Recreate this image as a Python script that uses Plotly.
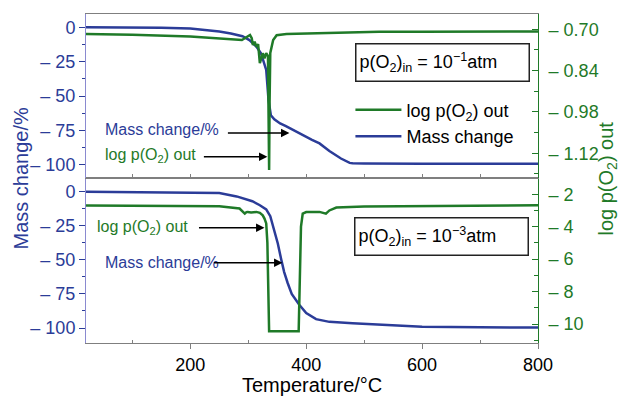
import plotly.graph_objects as go

BLUE = "#2B3C98"
GREEN = "#1F7A28"
GRAY = "#7f7f7f"
FONT = "Liberation Sans, Arial, sans-serif"

# ---- top panel: p(O2)_in = 1e-1 atm ----
t_mass_top = [20, 100, 150, 200, 230, 250, 270, 290, 302, 314, 322, 331, 335, 339, 345, 355,
              365, 380, 400, 410, 423, 440, 460, 475, 480, 500, 600, 700, 800]
mass_top = [0, 0, -0.3, -0.8, -1.8, -3, -4.5, -6.5, -9.3, -14, -19, -31, -53, -64, -67, -70,
            -72, -75.5, -80, -82, -84.5, -90, -95.5, -98.7, -99, -99.2, -99.3, -99.3, -99.3]

t_po2_top = [20, 100, 200, 250, 289, 303, 306, 308, 311, 314, 317, 320, 322, 325, 328, 331, 334,
             335.3, 336, 336.8, 338, 343, 349, 366, 400, 526, 600, 700, 800]
po2_top = [-0.716, -0.718, -0.724, -0.73, -0.736, -0.719, -0.73, -0.753, -0.742, -0.759, -0.75,
           -0.815, -0.798, -0.781, -0.798, -0.781, -0.79, -0.95, -1.177, -0.95, -0.78, -0.736,
           -0.72, -0.716, -0.714, -0.708, -0.708, -0.707, -0.707]

# ---- bottom panel: p(O2)_in = 1e-3 atm ----
t_mass_bot = [20, 150, 200, 250, 280, 307, 320, 331, 338, 345, 351, 357, 362, 368, 375, 388,
              400, 417, 440, 480, 550, 600, 700, 800]
mass_bot = [0, -0.3, -0.6, -1, -3.5, -7, -10, -13, -18, -28, -38, -50, -59, -67, -75, -83,
            -89, -93.5, -95.5, -96.5, -98, -99, -99.5, -99.7]

t_po2_bot = [20, 200, 250, 285, 290, 294, 297, 299, 305, 314, 320, 325, 328, 331, 333, 334.5,
             336, 387, 389, 391, 394, 400, 423, 430, 434, 440, 452, 500, 600, 800]
po2_bot = [-2.7, -2.72, -2.74, -2.88, -3.05, -3.19, -3.1, -3.09, -3.12, -3.09, -3.15, -3.3,
           -3.5, -3.8, -5, -8, -10.45, -10.45, -8, -4, -3.2, -3.1, -3.09, -3.15, -3.2, -3.0,
           -2.82, -2.76, -2.74, -2.68]

mass_ticks = [0, -25, -50, -75, -100]
mass_ticktext = ["0", "– 25", "– 50", "– 75", "– 100"]
po2_top_ticks = [-0.70, -0.84, -0.98, -1.12]
po2_top_ticktext = ["– 0.70", "– 0.84", "– 0.98", "– 1.12"]
po2_bot_ticks = [-2, -4, -6, -8, -10]
po2_bot_ticktext = ["– 2", "– 4", "– 6", "– 8", "– 10"]
x_ticks = [200, 400, 600, 800]

fig = go.Figure()
fig.add_trace(go.Scatter(x=t_po2_top, y=po2_top, xaxis="x2", yaxis="y4", mode="lines",
                         line=dict(color=GREEN, width=2.5), name="log p(O<sub>2</sub>) out"))
fig.add_trace(go.Scatter(x=t_mass_top, y=mass_top, xaxis="x2", yaxis="y3", mode="lines",
                         line=dict(color=BLUE, width=2.5), name="Mass change"))
fig.add_trace(go.Scatter(x=t_po2_bot, y=po2_bot, xaxis="x", yaxis="y2", mode="lines",
                         line=dict(color=GREEN, width=2.5), showlegend=False))
fig.add_trace(go.Scatter(x=t_mass_bot, y=mass_bot, xaxis="x", yaxis="y", mode="lines",
                         line=dict(color=BLUE, width=2.5), showlegend=False))

split = 165 / 329
left_axis = dict(showline=True, linecolor="#8a8ad0", linewidth=1, ticks="outside", ticklen=6,
                 tickcolor=BLUE, tickmode="array", tickvals=mass_ticks, ticktext=mass_ticktext,
                 tickfont=dict(color=BLUE, size=18, family=FONT), showgrid=False, zeroline=False,
                 minor=dict(tickvals=[-12.5, -37.5, -62.5, -87.5], ticks="outside", ticklen=3,
                            tickcolor=BLUE))
fig.update_layout(
    width=620, height=401,
    margin=dict(l=86, r=82, t=14, b=58),
    plot_bgcolor="white", paper_bgcolor="white",
    font=dict(family=FONT, size=18, color="black"),
    xaxis=dict(domain=[0, 1], anchor="y", range=[20, 800], showline=True, linecolor=GRAY,
               mirror=True, ticks="outside", ticklen=5, tickcolor=GRAY, tickvals=x_ticks,
               tickfont=dict(size=18), showgrid=False, zeroline=False,
               minor=dict(tickvals=[100, 300, 500, 700], ticks="inside", ticklen=3,
                          tickcolor=GRAY)),
    xaxis2=dict(domain=[0, 1], anchor="y3", range=[20, 800], matches="x", showline=True,
                linecolor=GRAY, mirror=True, ticks="inside", ticklen=4, tickcolor=GRAY,
                tickvals=[100, 200, 300, 400, 500, 600, 700, 800], showticklabels=False,
                showgrid=False, zeroline=False),
    yaxis=dict(domain=[0, split], anchor="x", range=[-111, 10], **left_axis),
    yaxis3=dict(domain=[split, 1], anchor="x2", range=[-109.7, 9.7], **left_axis),
    yaxis2=dict(domain=[0, split], anchor="x", overlaying="y", side="right",
                range=[-11.17, -1.0], showline=True, linecolor=GREEN, ticks="inside",
                ticklen=6, tickcolor=GREEN, tickmode="array", tickvals=po2_bot_ticks,
                ticktext=po2_bot_ticktext, tickfont=dict(color=GREEN, size=18),
                ticklabelstandoff=6, showgrid=False, zeroline=False,
                minor=dict(tickvals=[-3, -5, -7, -9, -11], ticks="inside", ticklen=4,
                           tickcolor=GREEN)),
    yaxis4=dict(domain=[split, 1], anchor="x2", overlaying="y3", side="right",
                range=[-1.204, -0.648], showline=True, linecolor=GREEN, ticks="inside",
                ticklen=6, tickcolor=GREEN, tickmode="array", tickvals=po2_top_ticks,
                ticktext=po2_top_ticktext, tickfont=dict(color=GREEN, size=18),
                ticklabelstandoff=6, showgrid=False, zeroline=False,
                minor=dict(tickvals=[-0.77, -0.91, -1.05, -1.19], ticks="inside", ticklen=4,
                           tickcolor=GREEN)),
    legend=dict(x=0.585, y=0.764, xanchor="left", yanchor="top", bgcolor="rgba(0,0,0,0)",
                font=dict(size=18, color="black"), itemwidth=46, tracegroupgap=4),
    showlegend=True,
)

ann = []
# axis titles
ann.append(dict(text="Temperature/°C", xref="paper", yref="paper", x=0.5, y=-0.128,
                xanchor="center", yanchor="middle", showarrow=False, font=dict(size=20)))
ann.append(dict(text="Mass change/%", xref="paper", yref="paper", x=0, y=0.5, xshift=-66,
                textangle=-90, xanchor="center", yanchor="middle", showarrow=False,
                font=dict(size=20, color=BLUE)))
ann.append(dict(text="log p(O<sub>2</sub>) out", xref="paper", yref="paper", x=1, y=0.5,
                xshift=69, textangle=-90, xanchor="center", yanchor="middle", showarrow=False,
                font=dict(size=20, color=GREEN)))
# condition boxes
ann.append(dict(text="p(O<sub>2</sub>)<sub>in</sub> = 10<sup>−1</sup>atm", xref="paper",
                yref="paper", x=0.789, y=0.853, xanchor="center", yanchor="middle",
                showarrow=False, bordercolor="#222222", borderwidth=1.5, borderpad=3,
                width=166, height=30, align="left", bgcolor="white", font=dict(size=18)))
ann.append(dict(text="p(O<sub>2</sub>)<sub>in</sub> = 10<sup>−3</sup>atm", xref="paper",
                yref="paper", x=0.787, y=0.325, xanchor="center", yanchor="middle",
                showarrow=False, bordercolor="#222222", borderwidth=1.5, borderpad=3,
                width=166, height=30, align="left", bgcolor="white", font=dict(size=18)))
# labels with arrows
labels = [
    ("Mass change/%", BLUE, "x2", "y3", 49, -74.7),
    ("log p(O<sub>2</sub>) out", GREEN, "x2", "y3", 49, -93.0),
    ("log p(O<sub>2</sub>) out", GREEN, "x", "y", 35, -26.5),
    ("Mass change/%", BLUE, "x", "y", 49, -52.0),
]
for txt, col, xr, yr, xv, yv in labels:
    ann.append(dict(text=txt, xref=xr, yref=yr, x=xv, y=yv, xanchor="left",
                    yanchor="middle", showarrow=False, font=dict(size=16, color=col)))
arrows = [
    ("x2", "y3", 371, -76.9, -63),
    ("x2", "y3", 333, -94.2, -65),
    ("x", "y", 328, -26.5, -67),
    ("x", "y", 359, -52.2, -70),
]
for xr, yr, xv, yv, axp in arrows:
    ann.append(dict(text="", xref=xr, yref=yr, x=xv, y=yv, ax=axp, ay=0, showarrow=True,
                    arrowhead=2, arrowsize=1.2, arrowwidth=1.4, arrowcolor="black"))
fig.update_layout(annotations=ann)

fig.write_html("out.html")
